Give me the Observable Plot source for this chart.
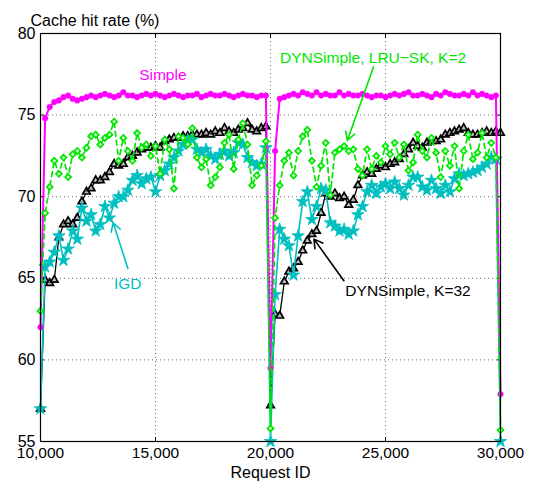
<!DOCTYPE html>
<html><head><meta charset="utf-8">
<script src="https://cdn.jsdelivr.net/npm/d3@7"></script>
<script src="https://cdn.jsdelivr.net/npm/@observablehq/plot@0.6"></script>
<style>body{margin:0;background:#fff}</style>
</head><body><div id="chart"></div>
<script>
// Sample positions (every 200 requests)
const requestIds = d3.range(10000, 30001, 200);

const simple = [
 62.0, 74.8, 75.5, 75.8, 75.9, 76.1, 76.2, 76.0, 75.9, 76.0,
 76.1, 76.2, 76.1, 76.2, 76.3, 76.2, 76.1, 76.2, 76.4, 76.2,
 76.2, 76.1, 76.2, 76.3, 76.2, 76.3, 76.2, 76.1, 76.2, 76.3,
 76.2, 76.1, 76.2, 76.2, 76.3, 76.1, 76.2, 76.3, 76.2, 76.2,
 76.3, 76.2, 76.1, 76.2, 76.3, 76.2, 76.2, 76.1, 76.2, 76.2,
 59.5, 72.8, 76.0, 76.1, 76.2, 76.3, 76.2, 76.4, 76.3, 76.2,
 76.4, 76.2, 76.3, 76.2, 76.2, 76.4, 76.2, 76.3, 76.2, 76.2,
 76.3, 76.2, 76.1, 76.2, 76.2, 76.1, 76.2, 76.3, 76.2, 76.3,
 76.4, 76.2, 76.2, 76.3, 76.2, 76.1, 76.3, 76.2, 76.4, 76.3,
 76.2, 76.2, 76.3, 76.2, 76.4, 76.2, 76.3, 76.2, 76.1, 76.2,
 57.9
];

const dynLruSk2 = [
 63.0, 69.0, 70.6, 72.2, 71.4, 72.4, 71.2, 72.6, 72.8, 72.4,
 73.0, 73.7, 73.8, 73.2, 73.6, 73.8, 74.6, 72.2, 73.6, 72.8,
 72.2, 73.9, 73.0, 73.2, 72.5, 73.1, 71.4, 73.5, 72.9, 70.5,
 73.7, 73.6, 73.2, 74.2, 72.4, 71.8, 72.3, 70.7, 71.2, 71.8,
 73.3, 73.8, 71.7, 73.5, 74.5, 73.2, 70.7, 71.3, 71.9, 73.4,
 55.8, 68.7, 70.7, 72.2, 72.7, 71.3, 72.8, 73.7, 74.1, 72.2,
 70.6, 71.9, 73.3, 70.1, 72.7, 72.9, 73.1, 72.8, 72.9, 71.7,
 71.3, 72.9, 71.7, 72.5, 72.1, 73.1, 72.6, 73.3, 72.4, 73.2,
 71.6, 72.1, 73.8, 72.8, 72.4, 73.6, 72.7, 71.2, 72.8, 71.9,
 73.1, 70.5, 72.8, 73.8, 72.3, 72.7, 73.9, 72.4, 73.3, 72.4,
 55.7
];

const dynK32 = [
 57.0, 64.9, 64.7, 64.9, 67.5, 68.3, 68.5, 68.3, 68.7, 69.7,
 70.3, 70.5, 71.0, 71.0, 71.2, 71.5, 72.0, 71.9, 72.0, 72.4,
 72.5, 72.7, 72.9, 73.0, 73.0, 73.1, 73.0, 73.4, 73.5, 73.6,
 73.6, 73.7, 73.7, 73.8, 73.8, 73.8, 73.9, 73.8, 74.0, 73.9,
 74.2, 74.0, 73.9, 74.1, 74.2, 74.5, 74.1, 74.0, 74.2, 74.3,
 57.2, 62.8, 62.7, 64.8, 65.4, 65.6, 66.0, 66.7, 67.3, 67.7,
 67.9, 69.0, 70.2, 70.0, 70.2, 69.9, 70.0, 69.5, 69.8, 70.7,
 71.3, 71.5, 71.4, 71.7, 71.9, 71.8, 72.0, 72.1, 72.3, 72.6,
 72.9, 73.3, 73.1, 73.0, 73.3, 73.4, 73.4, 73.5, 73.8, 73.9,
 74.0, 74.1, 74.2, 73.9, 73.8, 73.8, 73.9, 74.0, 73.9, 74.0,
 73.9
];

const igd = [
 57.0, 65.7, 66.0, 66.6, 67.6, 66.1, 66.8, 67.9, 67.4, 69.3,
 68.5, 68.9, 67.9, 68.3, 69.4, 68.7, 69.6, 70.0, 70.0, 70.4,
 71.0, 71.3, 70.8, 71.1, 71.2, 70.3, 71.3, 71.6, 72.0, 72.4,
 72.8, 73.2, 73.5, 73.5, 72.9, 72.7, 72.9, 72.5, 72.3, 72.6,
 72.8, 72.5, 72.7, 73.3, 73.2, 72.4, 72.1, 71.9, 72.0, 73.0,
 55.0, 64.0, 68.0, 67.4, 67.0, 65.2, 67.6, 69.7, 70.3, 68.6,
 69.4, 70.5, 70.4, 68.4, 68.2, 67.9, 68.0, 67.7, 67.9, 68.9,
 69.4, 70.3, 70.7, 70.2, 70.6, 70.8, 70.5, 70.9, 70.5, 70.1,
 70.7, 71.2, 71.2, 70.6, 70.4, 71.0, 70.5, 70.2, 70.7, 70.3,
 71.1, 71.4, 71.3, 71.4, 71.5, 71.6, 71.8, 72.0, 72.4, 72.3,
 55.0
];

const xTicks = [10000, 15000, 20000, 25000, 30000];
const yTicks = [55, 60, 65, 70, 75, 80];

const colors = {simple: "#ff00ff", lru: "#00e600", k32: "#000000", igd: "#00bfbf"};

const annotations = [
  {x: 15320, y: 77.45, text: "Simple", color: colors.simple},
  {x: 24460, y: 78.5, text: "DYNSimple, LRU\u2212SK, K=2", color: colors.lru},
  {x: 13790, y: 64.65, text: "IGD", color: colors.igd},
  {x: 25980, y: 64.2, text: "DYNSimple, K=32", color: colors.k32}
];
const arrows = [
  {x1: 24480, y1: 77.95, x2: 23340, y2: 73.45, color: colors.lru},
  {x1: 13800, y1: 65.6, x2: 13160, y2: 68.4, color: colors.igd},
  {x1: 23190, y1: 64.85, x2: 21890, y2: 67.4, color: colors.k32}
];

const toRows = (vals) => requestIds.map((x, i) => ({x, y: vals[i]}));
const sSimple = toRows(simple), sLru = toRows(dynLruSk2), sK32 = toRows(dynK32), sIgd = toRows(igd);

const chart = Plot.plot({
  width: 533, height: 488,
  marginLeft: 40, marginRight: 33, marginTop: 33, marginBottom: 47,
  style: {fontFamily: "'Liberation Sans', Arial, Helvetica, sans-serif", fontSize: "15.5px", background: "white", color: "black"},
  x: {domain: [10000, 30000]},
  y: {domain: [55, 80]},
  marks: [
    Plot.gridX(xTicks.slice(1, -1), {stroke: "#444", strokeOpacity: 0.8, strokeDasharray: "1,3"}),
    Plot.gridY(yTicks.slice(1, -1), {stroke: "#444", strokeOpacity: 0.8, strokeDasharray: "1,3"}),
    // inner tick marks
    Plot.axisY(yTicks, {anchor: "left", tickSize: -4, tickFormat: () => "", label: null}),
    Plot.axisY(yTicks, {anchor: "right", tickSize: -4, tickFormat: () => "", label: null}),
    Plot.axisX(xTicks, {anchor: "bottom", tickSize: -4, tickFormat: () => "", label: null}),
    Plot.axisX(xTicks, {anchor: "top", tickSize: -4, tickFormat: () => "", label: null}),
    // labels
    Plot.axisY(yTicks, {anchor: "left", tickSize: 0, tickPadding: 5, label: null, fontSize: 16}),
    Plot.axisX(xTicks, {anchor: "bottom", tickSize: 0, tickPadding: 5, tickFormat: d3.format(","), label: null, fontSize: 15.5}),
    // DYNSimple K=32
    Plot.line(sK32, {x: "x", y: "y", stroke: colors.k32, strokeWidth: 1.3}),
    Plot.dot(sK32, {x: "x", y: "y", symbol: "triangle2", r: 3.6, stroke: colors.k32, strokeWidth: 1.7, fill: "#bbb"}),
    // IGD
    Plot.line(sIgd, {x: "x", y: "y", stroke: colors.igd, strokeWidth: 1.6}),
    Plot.dot(sIgd, {x: "x", y: "y", symbol: "star", r: 3.9, fill: colors.igd, stroke: colors.igd, strokeWidth: 0.8}),
    // Simple
    Plot.line(sSimple, {x: "x", y: "y", stroke: colors.simple, strokeWidth: 2}),
    Plot.dot(sSimple, {x: "x", y: "y", r: 2.8, fill: colors.simple, stroke: colors.simple, strokeWidth: 0.5}),
    // DYNSimple LRU-SK K=2
    Plot.line(sLru, {x: "x", y: "y", stroke: colors.lru, strokeWidth: 1.7, strokeDasharray: "5,4"}),
    Plot.dot(sLru, {x: "x", y: "y", symbol: "diamond2", r: 2.7, stroke: colors.lru, strokeWidth: 1.7, fill: "#d8ffd8"}),
    Plot.frame({stroke: "black", strokeWidth: 1.2}),
    ...annotations.map(a => Plot.text([a], {x: "x", y: "y", text: "text", fill: a.color, fontSize: 15.5})),
    ...arrows.map(a => Plot.arrow([a], {x1: "x1", y1: "y1", x2: "x2", y2: "y2", stroke: a.color, strokeWidth: 1.6, headLength: 9})),
    Plot.text(["Cache hit rate (%)"], {frameAnchor: "top-left", textAnchor: "start", dx: -10, dy: -19, fontSize: 16}),
    Plot.text(["Request ID"], {frameAnchor: "bottom", dy: 36, fontSize: 16})
  ]
});
document.getElementById("chart").appendChild(chart);
</script>
</body></html>
